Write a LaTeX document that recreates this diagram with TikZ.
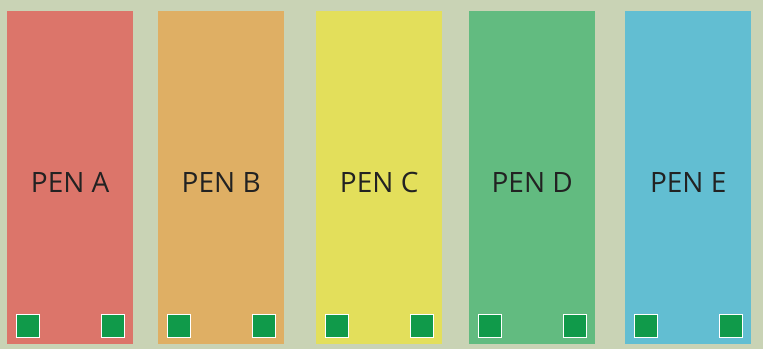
\documentclass[tikz,border=0pt]{standalone}
\usepackage{fontspec}
\setmainfont{Open Sans}
\definecolor{bgc}{RGB}{201,211,181}
\definecolor{penA}{RGB}{220,117,106}
\definecolor{penB}{RGB}{223,175,100}
\definecolor{penC}{RGB}{227,223,91}
\definecolor{penD}{RGB}{98,187,128}
\definecolor{penE}{RGB}{98,190,210}
\definecolor{sq}{RGB}{16,154,74}
\definecolor{txt}{RGB}{34,34,34}
\tikzset{
  pen/.style={fill=#1, draw=none, minimum width=126pt, minimum height=333pt, inner sep=0pt, anchor=north west},
  pentext/.style={text=txt, font=\fontsize{28}{30}\selectfont},
  sqbox/.style={fill=sq, draw=white, line width=1pt, minimum size=23.5pt, inner sep=0pt, anchor=north west}
}
\begin{document}
\begin{tikzpicture}[x=1pt,y=-1pt]
\fill[bgc] (0,0) rectangle (763,349);
\useasboundingbox (0,0) rectangle (763,349);
\foreach \n/\x/\c in {A/7/penA, B/158/penB, C/316/penC, D/469/penD, E/625/penE}{
  \node[pen=\c] (pen\n) at (\x,11) {};
  \node[pentext] (label\n) at ([yshift=-4.5pt]pen\n.center) {PEN \n};
  \node[sqbox] (sql\n) at (\x+8.5,313.5) {};
  \node[sqbox] (sqr\n) at (\x+93.5,313.5) {};
}
\end{tikzpicture}
\end{document}
